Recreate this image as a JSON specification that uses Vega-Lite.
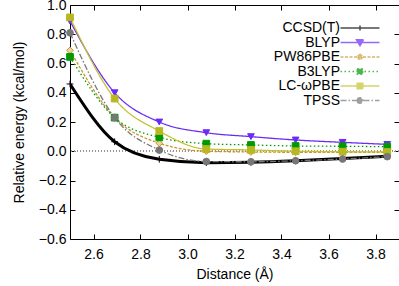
{
  "$schema": "https://vega.github.io/schema/vega-lite/v6.json",
  "width": 329,
  "height": 234,
  "autosize": {"type": "none"},
  "padding": {"left": 70, "top": 5, "right": 0, "bottom": 47},
  "config": {
    "font": "Liberation Sans",
    "view": {"stroke": "black", "strokeWidth": 1},
    "axis": {
      "labelFont": "Liberation Sans",
      "titleFont": "Liberation Sans",
      "labelFontSize": 14,
      "titleFontSize": 14,
      "titleFontWeight": "normal",
      "labelColor": "black",
      "titleColor": "black",
      "tickColor": "black",
      "domain": false,
      "grid": false,
      "tickSize": -5,
      "tickWidth": 1
    },
    "legend": {
      "labelFont": "Liberation Sans",
      "labelFontSize": 14,
      "labelColor": "black"
    }
  },
  "data": {
    "values": [
      {"method": "CCSD(T)", "d": 2.5, "e": 0.46},
      {"method": "CCSD(T)", "d": 2.69, "e": 0.065},
      {"method": "CCSD(T)", "d": 2.88, "e": -0.055},
      {"method": "CCSD(T)", "d": 3.08, "e": -0.078},
      {"method": "CCSD(T)", "d": 3.27, "e": -0.075},
      {"method": "CCSD(T)", "d": 3.46, "e": -0.065},
      {"method": "CCSD(T)", "d": 3.66, "e": -0.05},
      {"method": "CCSD(T)", "d": 3.85, "e": -0.035},
      {"method": "BLYP", "d": 2.5, "e": 0.89},
      {"method": "BLYP", "d": 2.69, "e": 0.40},
      {"method": "BLYP", "d": 2.88, "e": 0.20},
      {"method": "BLYP", "d": 3.08, "e": 0.127},
      {"method": "BLYP", "d": 3.27, "e": 0.10},
      {"method": "BLYP", "d": 3.46, "e": 0.077},
      {"method": "BLYP", "d": 3.66, "e": 0.061},
      {"method": "BLYP", "d": 3.85, "e": 0.047},
      {"method": "PW86PBE", "d": 2.5, "e": 0.69},
      {"method": "PW86PBE", "d": 2.69, "e": 0.23},
      {"method": "PW86PBE", "d": 2.88, "e": 0.055},
      {"method": "PW86PBE", "d": 3.08, "e": 0.0},
      {"method": "PW86PBE", "d": 3.27, "e": -0.005},
      {"method": "PW86PBE", "d": 3.46, "e": -0.007},
      {"method": "PW86PBE", "d": 3.66, "e": -0.007},
      {"method": "PW86PBE", "d": 3.85, "e": -0.007},
      {"method": "B3LYP", "d": 2.5, "e": 0.645},
      {"method": "B3LYP", "d": 2.69, "e": 0.23},
      {"method": "B3LYP", "d": 2.88, "e": 0.095},
      {"method": "B3LYP", "d": 3.08, "e": 0.052},
      {"method": "B3LYP", "d": 3.27, "e": 0.043},
      {"method": "B3LYP", "d": 3.46, "e": 0.036},
      {"method": "B3LYP", "d": 3.66, "e": 0.034},
      {"method": "B3LYP", "d": 3.85, "e": 0.031},
      {"method": "LC-ωPBE", "d": 2.5, "e": 0.915},
      {"method": "LC-ωPBE", "d": 2.69, "e": 0.36},
      {"method": "LC-ωPBE", "d": 2.88, "e": 0.138},
      {"method": "LC-ωPBE", "d": 3.08, "e": 0.015},
      {"method": "LC-ωPBE", "d": 3.27, "e": 0.009},
      {"method": "LC-ωPBE", "d": 3.46, "e": 0.0},
      {"method": "LC-ωPBE", "d": 3.66, "e": -0.003},
      {"method": "LC-ωPBE", "d": 3.85, "e": -0.005},
      {"method": "TPSS", "d": 2.5, "e": 0.81},
      {"method": "TPSS", "d": 2.69, "e": 0.23},
      {"method": "TPSS", "d": 2.88, "e": 0.008},
      {"method": "TPSS", "d": 3.08, "e": -0.07},
      {"method": "TPSS", "d": 3.27, "e": -0.072},
      {"method": "TPSS", "d": 3.46, "e": -0.065},
      {"method": "TPSS", "d": 3.66, "e": -0.053},
      {"method": "TPSS", "d": 3.85, "e": -0.037}
    ]
  },
  "layer": [
    {
      "mark": {"type": "rule", "color": "#999999", "strokeWidth": 0.6, "strokeDash": [1, 2]},
      "encoding": {"y": {"datum": 0, "type": "quantitative", "axis": null}}
    },
    {
      "transform": [{"filter": "datum.method === 'CCSD(T)'"}],
      "mark": {"type": "line", "interpolate": "monotone", "strokeWidth": 3, "clip": true, "color": "#000000"},
      "encoding": {
        "x": {"field": "d", "type": "quantitative", "scale": {"domain": [2.5, 3.9], "nice": false, "zero": false},
              "axis": {"values": [2.6, 2.8, 3.0, 3.2, 3.4, 3.6, 3.8], "format": ".1f", "title": "Distance (Å)", "labelPadding": 13, "titlePadding": 6}},
        "y": {"field": "e", "type": "quantitative", "scale": {"domain": [-0.6, 1.0], "nice": false, "zero": false},
              "axis": {"values": [-0.6, -0.4, -0.2, 0.0, 0.2, 0.4, 0.6, 0.8, 1.0], "format": ".1f", "title": "Relative energy (kcal/mol)", "labelPadding": 9, "titlePadding": 12}}
      }
    },
    {
      "transform": [{"filter": "datum.method !== 'CCSD(T)'"}],
      "mark": {"type": "line", "interpolate": "monotone", "strokeWidth": 1.3, "clip": true},
      "encoding": {
        "x": {"field": "d", "type": "quantitative", "axis": null},
        "y": {"field": "e", "type": "quantitative", "axis": null},
        "color": {"field": "method", "type": "nominal", "legend": null,
                  "scale": {"domain": ["CCSD(T)", "BLYP", "PW86PBE", "B3LYP", "LC-ωPBE", "TPSS"],
                            "range": ["#000000", "#6a2cf5", "#c8962e", "#009a00", "#c4c230", "#777777"]}},
        "strokeDash": {"field": "method", "type": "nominal", "legend": null,
                       "scale": {"domain": ["CCSD(T)", "BLYP", "PW86PBE", "B3LYP", "LC-ωPBE", "TPSS"],
                                 "range": [[1, 0], [1, 0], [3, 1.5], [1.5, 2.5], [1, 0], [6, 2, 1.5, 2]]}}
      }
    },
    {
      "mark": {"type": "point", "size": 45, "strokeWidth": 1, "opacity": 1, "clip": false},
      "encoding": {
        "x": {"field": "d", "type": "quantitative",
              "axis": {"orient": "top", "values": [2.6, 2.8, 3.0, 3.2, 3.4, 3.6, 3.8], "labels": false, "title": null}},
        "y": {"field": "e", "type": "quantitative",
              "axis": {"orient": "right", "values": [-0.6, -0.4, -0.2, 0.0, 0.2, 0.4, 0.6, 0.8, 1.0], "labels": false, "title": null}},
        "shape": {"field": "method", "type": "nominal", "legend": null,
                  "scale": {"domain": ["CCSD(T)", "BLYP", "PW86PBE", "B3LYP", "LC-ωPBE", "TPSS"],
                            "range": ["M-1,0H1M0,-1V1", "triangle-down", "diamond", "square", "M-1,-1H1V1H-1ZM-1,-1L1,1M1,-1L-1,1", "circle"]}},
        "fill": {"field": "method", "type": "nominal", "legend": null,
                 "scale": {"domain": ["CCSD(T)", "BLYP", "PW86PBE", "B3LYP", "LC-ωPBE", "TPSS"],
                           "range": ["#000000", "#6a2cf5", "#ecd59a", "#009a00", "#b8b820", "#777777"]}},
        "stroke": {"field": "method", "type": "nominal", "legend": null,
                   "scale": {"domain": ["CCSD(T)", "BLYP", "PW86PBE", "B3LYP", "LC-ωPBE", "TPSS"],
                             "range": ["#000000", "#6a2cf5", "#c8962e", "#009a00", "#b8b820", "#777777"]}}
      }
    },
    {
      "transform": [{"filter": "false"}],
      "mark": {"type": "point", "filled": true, "size": 100, "strokeWidth": 1.5},
      "encoding": {
        "x": {"field": "d", "type": "quantitative", "axis": null},
        "y": {"field": "e", "type": "quantitative", "axis": null},
        "color": {"field": "method", "type": "nominal",
                  "scale": {"domain": ["CCSD(T)", "BLYP", "PW86PBE", "B3LYP", "LC-ωPBE", "TPSS"],
                            "range": ["#000000", "#6a2cf5", "#ecd59a", "#009a00", "#c4c230", "#777777"]},
                  "legend": {"title": null, "orient": "top-right", "offset": 16, "padding": 0, "symbolSize": 100,
                             "labelAlign": "right", "labelOffset": -27, "rowPadding": 0.5, "symbolStrokeWidth": 1.5}},
        "stroke": {"field": "method", "type": "nominal",
                   "scale": {"domain": ["CCSD(T)", "BLYP", "PW86PBE", "B3LYP", "LC-ωPBE", "TPSS"],
                             "range": ["#000000", "#6a2cf5", "#c8962e", "#009a00", "#c4c230", "#777777"]},
                   "legend": {"title": null}},
        "shape": {"field": "method", "type": "nominal",
                  "scale": {"domain": ["CCSD(T)", "BLYP", "PW86PBE", "B3LYP", "LC-ωPBE", "TPSS"],
                            "range": ["M-3.9,0H3.9M0,-0.5V0.5", "M-3.9,0H3.9M-0.7,-0.55H0.7L0,0.65Z", "M-3.9,0H3.9M0,-0.6L0.6,0L0,0.6L-0.6,0Z", "M-3.9,0H3.9M-0.55,-0.55H0.55V0.55H-0.55Z", "M-3.9,0H3.9M-0.55,-0.55H0.55V0.55H-0.55ZM-0.55,-0.55L0.55,0.55M0.55,-0.55L-0.55,0.55", "M-3.9,0H3.9M-0.55,0A0.55,0.55,0,1,0,0.55,0A0.55,0.55,0,1,0,-0.55,0Z"]},
                  "legend": {"title": null}},
        "strokeDash": {"field": "method", "type": "nominal",
                       "scale": {"domain": ["CCSD(T)", "BLYP", "PW86PBE", "B3LYP", "LC-ωPBE", "TPSS"],
                                 "range": [[1, 0], [1, 0], [3, 1.5], [1.5, 2.5], [1, 0], [6, 2, 1.5, 2]]},
                       "legend": {"title": null}}
      }
    }
  ],
  "resolve": {
    "axis": {"x": "independent", "y": "independent"},
    "scale": {"color": "independent", "stroke": "independent", "shape": "independent", "strokeDash": "independent", "fill": "independent"}
  }
}
